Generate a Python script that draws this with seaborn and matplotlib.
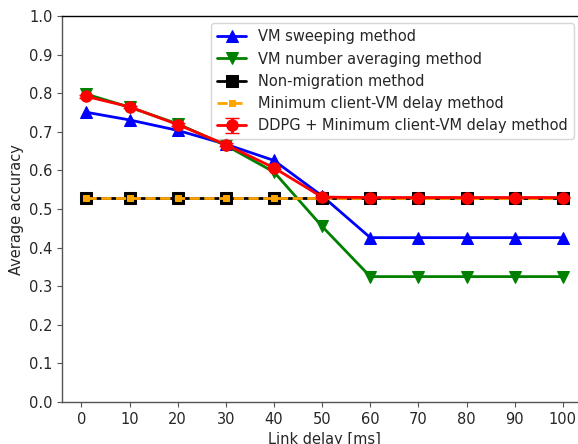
import matplotlib
matplotlib.use('Agg')
import matplotlib.pyplot as plt
import seaborn as sns

# link delay values [ms]
delay = [1, 10, 20, 30, 40, 50, 60, 70, 80, 90, 100]

# average accuracy per method
sweeping = [0.751, 0.731, 0.704, 0.668, 0.626, 0.534, 0.426, 0.426, 0.426, 0.426, 0.426]
averaging = [0.798, 0.764, 0.721, 0.665, 0.596, 0.455, 0.325, 0.325, 0.325, 0.325, 0.325]
non_migration = [0.53] * 11
min_delay = [0.53] * 11
ddpg = [0.792, 0.765, 0.719, 0.667, 0.607, 0.531, 0.53, 0.53, 0.53, 0.53, 0.53]
ddpg_err = [0.003, 0.003, 0.003, 0.003, 0.003, 0.002, 0.002, 0.002, 0.002, 0.002, 0.002]

sns.set_style('ticks')
plt.rcParams['font.family'] = ['DejaVu Sans']
plt.rcParams['font.size'] = 10.5

fig = plt.figure(figsize=(5.78, 4.44), dpi=100)
ax = fig.add_axes([0.108, 0.0946, 0.907, 0.869])

sns.lineplot(x=delay, y=sweeping, ax=ax, color='blue', marker='^', markersize=9,
             markeredgecolor='blue', linewidth=2, label='VM sweeping method')
sns.lineplot(x=delay, y=averaging, ax=ax, color='green', marker='v', markersize=9,
             markeredgecolor='green', linewidth=2, label='VM number averaging method')
sns.lineplot(x=delay, y=non_migration, ax=ax, color='black', marker='s', markersize=9,
             markeredgecolor='black', linewidth=2, label='Non-migration method')
sns.lineplot(x=delay, y=min_delay, ax=ax, color='orange', marker='s', markersize=4,
             markeredgecolor='orange', linewidth=2, linestyle='--',
             label='Minimum client-VM delay method')
ax.errorbar(delay, ddpg, yerr=ddpg_err, color='red', marker='o', markersize=8,
            linewidth=2, capsize=5, label='DDPG + Minimum client-VM delay method',
            zorder=5)

ax.set_ylim(0, 1.0)
ax.set_yticks([i / 10 for i in range(11)])
ax.set_xticks(range(0, 101, 10))
ax.tick_params(labelsize=10.5)
ax.set_xlabel('Link delay [ms]', fontsize=10.5)
ax.set_ylabel('Average accuracy', fontsize=10.5)

for side in ['top', 'right', 'left', 'bottom']:
    ax.spines[side].set_visible(True)
    ax.spines[side].set_linewidth(1.0)
ax.spines['top'].set_color('black')
ax.spines['right'].set_color('black')
for side in ['left', 'bottom']:
    ax.spines[side].set_color('#555555')
ax.tick_params(color='#555555')

ax.legend(loc='upper right', bbox_to_anchor=(0.989, 1.0), fontsize=10.5)

fig.savefig('out.png', dpi=100)
